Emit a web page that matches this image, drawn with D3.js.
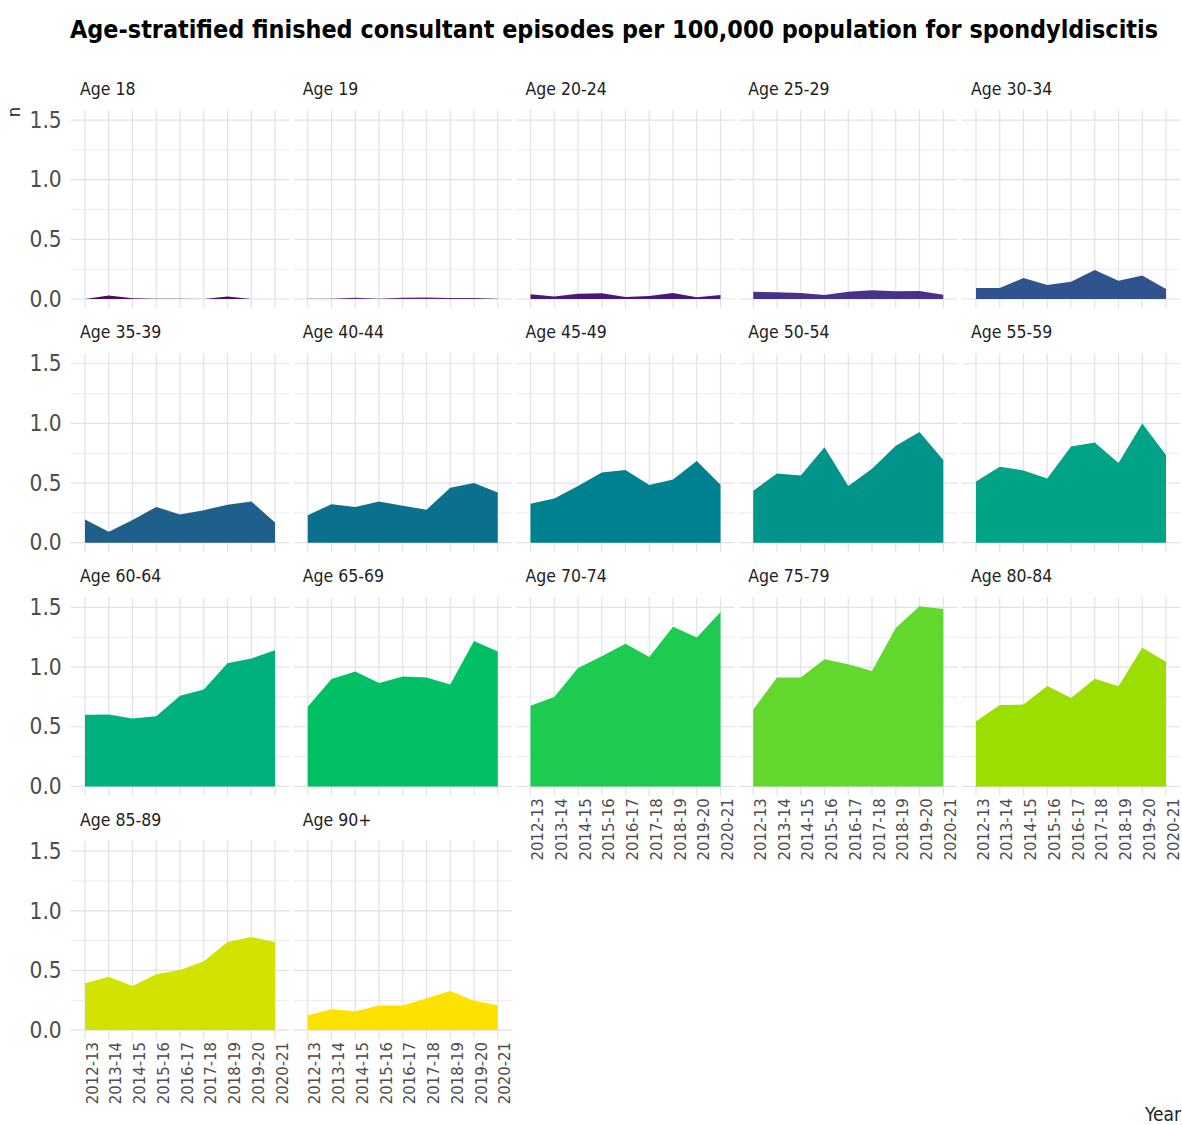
<!DOCTYPE html>
<html lang="en">
<head>
    <meta charset="UTF-8">
    <title>Spondyldiscitis episodes</title>
    <script src="https://d3js.org/d3.v7.min.js"></script>
    <style>
        body{margin: 0; background: #fff;}
        text{font-family: "Liberation Sans Narrow", "DejaVu Sans Condensed", "Liberation Sans", sans-serif;}
    </style>
</head>
<body>
    <div id="plot"></div>

    <script>
        function translate(x, y){
            return 'translate(' + x + ', ' + y + ')';
        }

        let years = ['2012-13', '2013-14', '2014-15', '2015-16', '2016-17', '2017-18', '2018-19', '2019-20', '2020-21'];

        let ages = ['Age 18', 'Age 19', 'Age 20-24', 'Age 25-29', 'Age 30-34', 'Age 35-39', 'Age 40-44',
                    'Age 45-49', 'Age 50-54', 'Age 55-59', 'Age 60-64', 'Age 65-69', 'Age 70-74',
                    'Age 75-79', 'Age 80-84', 'Age 85-89', 'Age 90+'];

        // rates per 100,000, one row per age group
        let rates = [
            [0.000, 0.030, 0.006, 0.003, 0.002, 0.000, 0.020, 0.000, 0.000],
            [0.003, 0.003, 0.010, 0.003, 0.010, 0.012, 0.008, 0.008, 0.003],
            [0.040, 0.022, 0.045, 0.048, 0.017, 0.025, 0.050, 0.014, 0.034],
            [0.061, 0.056, 0.050, 0.034, 0.061, 0.073, 0.064, 0.067, 0.036],
            [0.092, 0.092, 0.176, 0.117, 0.145, 0.243, 0.154, 0.196, 0.084],
            [0.195, 0.092, 0.190, 0.300, 0.237, 0.273, 0.318, 0.346, 0.170],
            [0.231, 0.323, 0.300, 0.346, 0.310, 0.276, 0.460, 0.500, 0.420],
            [0.327, 0.370, 0.475, 0.589, 0.610, 0.483, 0.530, 0.684, 0.486],
            [0.436, 0.580, 0.564, 0.800, 0.475, 0.620, 0.813, 0.927, 0.693],
            [0.514, 0.637, 0.606, 0.539, 0.807, 0.840, 0.668, 1.000, 0.735],
            [0.600, 0.603, 0.570, 0.587, 0.760, 0.813, 1.033, 1.073, 1.142],
            [0.668, 0.900, 0.964, 0.866, 0.922, 0.913, 0.855, 1.218, 1.131],
            [0.677, 0.750, 0.992, 1.090, 1.196, 1.084, 1.338, 1.249, 1.461],
            [0.644, 0.912, 0.912, 1.065, 1.023, 0.967, 1.327, 1.511, 1.486],
            [0.546, 0.683, 0.686, 0.842, 0.742, 0.903, 0.839, 1.163, 1.045],
            [0.392, 0.447, 0.369, 0.469, 0.503, 0.578, 0.739, 0.780, 0.739],
            [0.125, 0.175, 0.158, 0.206, 0.206, 0.267, 0.328, 0.247, 0.208]
        ];

        let fills = ['#4a0f5c', '#5e2a74', '#48197b', '#45338a', '#30528f', '#1f5f8b', '#0b6f8e',
                     '#00818f', '#00948b', '#00a386', '#00b07f', '#00bf64', '#1ccb50',
                     '#62d82f', '#9cde00', '#d3e300', '#fde200'];

        let yTicks = [0, 0.5, 1.0, 1.5];
        let yMinor = [0.25, 0.75, 1.25];

        let svgWidth = 1182;
        let svgHeight = 1125;
        let nCols = 5;
        let colStep = 222.75;
        let rowStep = 243.7;
        let firstTick = 85;
        let firstZero = 299;
        let tickSpan = 190;
        let pxPerUnit = 119.3;

        let svg = d3.select('#plot')
                    .append('svg')
                        .attr('width', svgWidth)
                        .attr('height', svgHeight);

        let maxVal = d3.max(rates, r => d3.max(r));
        let pad = maxVal * 0.05;
        let yDomain = [-pad, maxVal + pad];
        let panelH = (yDomain[1] - yDomain[0]) * pxPerUnit;
        let step = tickSpan / (years.length - 1);
        let panelW = tickSpan + 1.2 * step;

        let x = d3.scalePoint()
                    .domain(years)
                    .range([0.6 * step, 0.6 * step + tickSpan]);
        let y = d3.scaleLinear()
                    .domain(yDomain)
                    .range([panelH, 0]);

        let area = d3.area()
                    .x((d, i) => x(years[i]))
                    .y0(y(0))
                    .y1(d => y(d));

        ages.forEach(function(age, i){
            let col = i % nCols;
            let row = Math.floor(i / nCols);
            let left = firstTick + col * colStep - 0.6 * step;
            let top = firstZero + row * rowStep - y(0);

            let g = svg.append('g').attr('transform', translate(left, top));

            g.selectAll('.minor')
                .data(yMinor)
                .join('line')
                    .attr('x1', 0).attr('x2', panelW)
                    .attr('y1', d => y(d)).attr('y2', d => y(d))
                    .attr('stroke', '#ebebeb').attr('stroke-width', 1);

            g.selectAll('.major')
                .data(yTicks)
                .join('line')
                    .attr('x1', 0).attr('x2', panelW)
                    .attr('y1', d => y(d)).attr('y2', d => y(d))
                    .attr('stroke', '#e2e2e2').attr('stroke-width', 1.2);

            g.selectAll('.vgrid')
                .data(years)
                .join('line')
                    .attr('x1', d => x(d)).attr('x2', d => x(d))
                    .attr('y1', 0).attr('y2', panelH)
                    .attr('stroke', '#e2e2e2').attr('stroke-width', 1.2);

            g.append('path')
                .datum(rates[i])
                .attr('d', area)
                .attr('fill', fills[i]);

            g.append('text')
                .attr('x', 0.6 * step - 5)
                .attr('y', -15)
                .attr('font-size', 17.5)
                .attr('fill', '#222')
                .text(age);

            if (col === 0){
                let ya = g.append('g')
                    .call(d3.axisLeft(y).tickValues(yTicks).tickFormat(d3.format('.1f')).tickSize(0).tickPadding(9));
                ya.select('.domain').remove();
                ya.selectAll('text')
                    .attr('font-size', 22.5)
                    .attr('fill', '#4d4d4d')
                    .style('font-family', null);
            }

            // x labels only under the lowest panel in each column
            if (i + nCols >= ages.length){
                let xa = g.append('g')
                    .attr('transform', translate(0, panelH))
                    .call(d3.axisBottom(x).tickSize(0));
                xa.select('.domain').remove();
                xa.selectAll('text')
                    .attr('transform', 'rotate(-90)')
                    .attr('x', -3)
                    .attr('y', 0)
                    .attr('dy', 12)
                    .attr('font-size', 16.5)
                    .attr('fill', '#4d4d4d')
                    .style('text-anchor', 'end')
                    .style('font-family', null);
            }
        });

        svg.append('text')
            .attr('x', 70)
            .attr('y', 38)
            .attr('textLength', 1088)
            .attr('lengthAdjust', 'spacingAndGlyphs')
            .attr('font-size', 25)
            .attr('font-weight', 'bold')
            .attr('fill', '#000')
            .text('Age-stratified finished consultant episodes per 100,000 population for spondyldiscitis');

        svg.append('text')
            .attr('transform', translate(20, 112) + ' rotate(-90)')
            .attr('text-anchor', 'middle')
            .attr('font-size', 18)
            .attr('fill', '#222')
            .text('n');

        svg.append('text')
            .attr('x', 1181)
            .attr('y', 1121)
            .attr('text-anchor', 'end')
            .attr('font-size', 19)
            .attr('fill', '#222')
            .text('Year');
    </script>
</body>
</html>
